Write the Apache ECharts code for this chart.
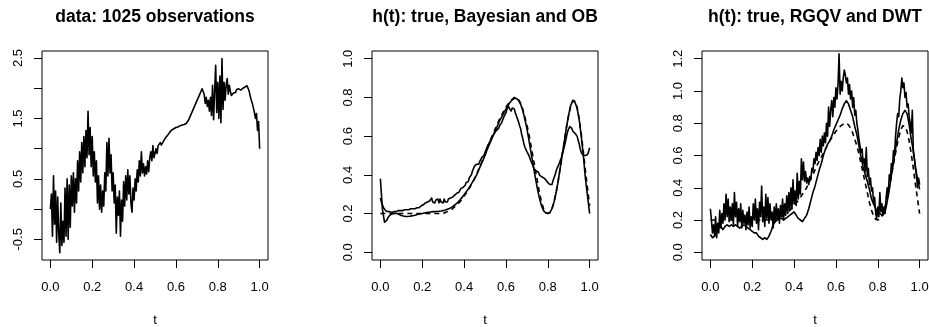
<!DOCTYPE html>
<html>
<head>
<meta charset="utf-8">
<script src="https://cdn.jsdelivr.net/npm/echarts@6/dist/echarts.min.js"></script>
<style>
  html, body { margin: 0; padding: 0; background: #fff; }
  #chart { width: 929px; height: 327px; }
</style>
</head>
<body>
<div id="chart"></div>
<script>
// Observed series: 201 samples on an even grid over t in [0, 1]
const obsValues = [
  0.00, 0.25, -0.45, 0.55, -0.25, 0.30, -0.55, 0.20, -0.40, -0.72,
  0.10, -0.60, -0.20, -0.55, 0.35, -0.45, 0.50, -0.50, 0.40, -0.30,
  0.55, 0.05, 0.60, -0.05, 0.50, 0.10, 0.80, 0.30, 0.95, 0.45,
  1.10, 0.60, 1.20, 0.70, 1.30, 0.85, 1.62, 0.90, 1.35, 0.70,
  1.20, 0.55, 0.95, 0.45, 0.80, 0.10, 0.55, 0.00, 0.40, -0.05,
  0.30, 0.05, 0.60, 0.30, 1.10, 0.55, 1.17, 0.60, 0.90, 0.30,
  0.60, 0.10, 0.40, -0.40, 0.20, -0.10, 0.30, -0.45, 0.15, -0.20,
  0.45, 0.05, 0.55, 0.15, 0.65, 0.25, 0.55, 0.10, -0.05, 0.35,
  0.15, 0.50, 0.30, 0.65, 0.45, 0.80, 0.55, 0.95, 0.60, 0.75,
  0.55, 0.70, 0.58, 0.80, 0.62, 0.85, 0.95, 0.80, 1.05, 0.85,
  0.85, 1.00, 0.92, 1.05, 1.02, 1.10, 1.06, 1.08, 1.12, 1.15,
  1.18, 1.20, 1.22, 1.25, 1.27, 1.29, 1.31, 1.32, 1.33, 1.34,
  1.35, 1.35, 1.36, 1.37, 1.38, 1.38, 1.39, 1.40, 1.40, 1.41,
  1.42, 1.44, 1.47, 1.51, 1.55, 1.59, 1.63, 1.67, 1.71, 1.75,
  1.79, 1.83, 1.87, 1.91, 1.95, 1.99, 2.02, 1.90, 1.75, 1.85,
  1.70, 1.80, 1.62, 1.85, 1.55, 2.05, 1.48, 1.95, 2.38, 1.60,
  2.10, 1.50, 2.20, 1.43, 2.49, 1.65, 2.10, 1.80, 2.05, 2.16,
  1.90, 2.05, 1.95, 1.88, 1.85, 1.92, 1.95, 1.93, 1.98, 2.00,
  1.99, 1.98, 1.97, 1.98, 2.00, 2.01, 2.02, 2.03, 2.04, 2.03,
  1.95, 1.87, 1.80, 1.75, 1.68, 1.60, 1.50, 1.58, 1.30, 1.45,
  1.00
];

// True h(t), 101 samples
const trueH = [
  0.20, 0.20, 0.20, 0.20, 0.20, 0.20, 0.20, 0.20, 0.20, 0.20,
  0.20, 0.20, 0.20, 0.20, 0.20, 0.20, 0.20, 0.20, 0.20, 0.20,
  0.20, 0.20, 0.20, 0.20, 0.20, 0.20, 0.20, 0.20, 0.20, 0.20,
  0.20, 0.205, 0.21, 0.215, 0.22, 0.23, 0.24, 0.25, 0.26, 0.275,
  0.29, 0.305, 0.32, 0.34, 0.36, 0.38, 0.40, 0.43, 0.455, 0.48,
  0.51, 0.54, 0.565, 0.59, 0.615, 0.64, 0.665, 0.69, 0.71, 0.73,
  0.75, 0.765, 0.78, 0.79, 0.80, 0.80, 0.79, 0.77, 0.74, 0.70,
  0.66, 0.61, 0.55, 0.49, 0.43, 0.37, 0.31, 0.26, 0.225, 0.205,
  0.20, 0.205, 0.225, 0.26, 0.31, 0.37, 0.44, 0.51, 0.58, 0.65,
  0.71, 0.76, 0.785, 0.78, 0.75, 0.69, 0.61, 0.52, 0.42, 0.33,
  0.24
];

// Bayesian estimate, 101 samples
const bayesH = [
  0.38, 0.22, 0.155, 0.165, 0.185, 0.195, 0.20, 0.20, 0.20, 0.195,
  0.19, 0.187, 0.185, 0.185, 0.186, 0.188, 0.19, 0.193, 0.196, 0.198,
  0.20, 0.203, 0.205, 0.207, 0.208, 0.21, 0.21, 0.211, 0.212, 0.213,
  0.215, 0.218, 0.222, 0.226, 0.232, 0.24, 0.248, 0.258, 0.27, 0.283,
  0.297, 0.312, 0.327, 0.344, 0.362, 0.38, 0.40, 0.425, 0.45, 0.475,
  0.50, 0.53, 0.555, 0.58, 0.605, 0.63, 0.655, 0.68, 0.70, 0.72,
  0.74, 0.76, 0.775, 0.787, 0.795, 0.795, 0.785, 0.765, 0.735, 0.69,
  0.64, 0.58, 0.515, 0.45, 0.39, 0.33, 0.28, 0.24, 0.215, 0.203,
  0.20, 0.205, 0.225, 0.26, 0.31, 0.37, 0.44, 0.51, 0.58, 0.65,
  0.71, 0.76, 0.783, 0.775, 0.745, 0.685, 0.60, 0.50, 0.38, 0.29,
  0.20
];

// OB estimate, 201 samples
const obH = [
  0.28, 0.26, 0.265, 0.23, 0.22, 0.215, 0.22, 0.21, 0.215, 0.21,
  0.22, 0.205, 0.215, 0.21, 0.22, 0.21, 0.22, 0.215, 0.225, 0.215,
  0.22, 0.215, 0.225, 0.22, 0.23, 0.22, 0.225, 0.22, 0.23, 0.225,
  0.235, 0.225, 0.23, 0.225, 0.235, 0.23, 0.24, 0.23, 0.235, 0.24,
  0.235, 0.245, 0.24, 0.255, 0.245, 0.26, 0.25, 0.265, 0.255, 0.28,
  0.26, 0.27, 0.255, 0.27, 0.26, 0.275, 0.255, 0.275, 0.26, 0.27,
  0.255, 0.275, 0.26, 0.265, 0.26, 0.275, 0.265, 0.28, 0.27, 0.285,
  0.28, 0.295, 0.29, 0.305, 0.30, 0.31, 0.315, 0.33, 0.325, 0.335,
  0.34, 0.345, 0.36, 0.37, 0.365, 0.385, 0.39, 0.40, 0.42, 0.43,
  0.445, 0.44, 0.455, 0.46, 0.455, 0.47, 0.475, 0.49, 0.485, 0.50,
  0.51, 0.53, 0.52, 0.555, 0.56, 0.575, 0.57, 0.60, 0.595, 0.615,
  0.61, 0.63, 0.625, 0.64, 0.655, 0.65, 0.67, 0.675, 0.70, 0.705,
  0.72, 0.74, 0.765, 0.745, 0.74, 0.73, 0.745, 0.735, 0.74, 0.72,
  0.71, 0.69, 0.675, 0.655, 0.64, 0.61, 0.59, 0.565, 0.545, 0.535,
  0.52, 0.51, 0.50, 0.485, 0.47, 0.46, 0.445, 0.43, 0.425, 0.42,
  0.41, 0.415, 0.40, 0.405, 0.39, 0.395, 0.385, 0.38, 0.375, 0.365,
  0.36, 0.37, 0.35, 0.34, 0.35, 0.37, 0.385, 0.40, 0.42, 0.435,
  0.44, 0.46, 0.475, 0.49, 0.51, 0.53, 0.55, 0.575, 0.60, 0.625,
  0.635, 0.65, 0.66, 0.64, 0.625, 0.63, 0.615, 0.62, 0.60, 0.58,
  0.56, 0.535, 0.515, 0.51, 0.50, 0.505, 0.50, 0.495, 0.505, 0.52,
  0.54
];

// RGQV estimate, 201 samples
const rgqvH = [
  0.27, 0.20, 0.12, 0.17, 0.10, 0.22, 0.09, 0.18, 0.12, 0.26,
  0.15, 0.24, 0.18, 0.30, 0.20, 0.36, 0.22, 0.33, 0.19, 0.28,
  0.20, 0.30, 0.17, 0.37, 0.22, 0.31, 0.16, 0.27, 0.19, 0.30,
  0.15, 0.26, 0.18, 0.23, 0.14, 0.25, 0.17, 0.28, 0.15, 0.22,
  0.16, 0.30, 0.20, 0.33, 0.18, 0.27, 0.14, 0.31, 0.22, 0.41,
  0.19, 0.28, 0.16, 0.36, 0.21, 0.34, 0.18, 0.30, 0.20, 0.25,
  0.15, 0.28, 0.19, 0.30, 0.21, 0.27, 0.18, 0.29, 0.22, 0.33,
  0.20, 0.30, 0.23, 0.35, 0.24, 0.37, 0.26, 0.40, 0.27, 0.45,
  0.30, 0.38, 0.29, 0.49, 0.33, 0.44, 0.36, 0.58, 0.45, 0.56,
  0.44, 0.50, 0.43, 0.46, 0.42, 0.47, 0.45, 0.52, 0.50, 0.58,
  0.55, 0.62, 0.57, 0.65, 0.60, 0.70, 0.62, 0.72, 0.66, 0.74,
  0.68, 0.80, 0.72, 0.90, 0.78, 0.88, 0.94, 0.84, 0.96, 0.90,
  1.02, 0.95, 1.04, 1.23, 0.98, 1.06, 1.00, 1.08, 1.13, 1.10,
  1.05, 1.08, 0.98, 1.04, 0.95, 1.00, 0.90, 0.96, 0.85, 0.88,
  0.80, 0.76, 0.70, 0.66, 0.62, 0.64, 0.55, 0.58, 0.50, 0.65,
  0.47, 0.52, 0.42, 0.46, 0.38, 0.40, 0.30, 0.34, 0.24, 0.21,
  0.28, 0.22, 0.37, 0.25, 0.30, 0.23, 0.28, 0.24, 0.34, 0.40,
  0.36, 0.48, 0.45, 0.55, 0.52, 0.63, 0.60, 0.72, 0.80, 0.86,
  0.84, 0.95, 1.00, 1.08, 1.02, 1.05, 0.96, 0.99, 0.90, 0.92,
  0.84, 0.80, 0.74, 0.88, 0.62, 0.58, 0.52, 0.47, 0.40, 0.46,
  0.42
];

// DWT estimate, 101 samples
const dwtH = [
  0.11, 0.09, 0.10, 0.13, 0.15, 0.16, 0.14, 0.16, 0.17, 0.16,
  0.17, 0.16, 0.17, 0.16, 0.15, 0.16, 0.17, 0.16, 0.15, 0.14,
  0.13, 0.12, 0.12, 0.10, 0.09, 0.08, 0.09, 0.08, 0.10, 0.13,
  0.17, 0.19, 0.20, 0.21, 0.21, 0.20, 0.21, 0.22, 0.23, 0.24,
  0.25, 0.23, 0.21, 0.20, 0.19, 0.21, 0.23, 0.27, 0.32, 0.37,
  0.41, 0.46, 0.51, 0.55, 0.60, 0.64, 0.67, 0.69, 0.72, 0.76,
  0.79, 0.82, 0.85, 0.89, 0.92, 0.94, 0.92, 0.88, 0.84, 0.78,
  0.73, 0.66, 0.59, 0.53, 0.48, 0.44, 0.39, 0.33, 0.30, 0.27,
  0.25, 0.24, 0.23, 0.24, 0.28, 0.35, 0.43, 0.52, 0.60, 0.68,
  0.76, 0.82, 0.86, 0.88, 0.86, 0.79, 0.70, 0.63, 0.53, 0.45,
  0.39
];

// Titles and tick values
const panelTitles = ['data: 1025 observations', 'h(t): true, Bayesian and OB', 'h(t): true, RGQV and DWT'];
const tTicks = [0, 0.2, 0.4, 0.6, 0.8, 1.0];
const obsTicks = [-0.5, 0, 0.5, 1, 1.5, 2, 2.5];
const obsTickLabels = [-0.5, 0.5, 1.5, 2.5];
const hTicksMid = [0, 0.2, 0.4, 0.6, 0.8, 1.0];
const hTicksRight = [0, 0.2, 0.4, 0.6, 0.8, 1.0, 1.2];

const FONT = '"Liberation Sans", Arial, Helvetica, sans-serif';
const INK = '#000';

// Samples on an even grid spanning t = 0..1
function onGrid(values) {
  const n = values.length;
  return values.map((v, i) => [i / (n - 1), v]);
}

const panelLeft = [42, 372, 702];
const panelTop = 51;
const panelW = 226;
const panelH = 209;

function xAxisFor(g) {
  return {
    type: 'value', gridIndex: g, position: 'bottom', min: -0.04, max: 1.04,
    name: 't', nameLocation: 'middle', nameGap: 54,
    nameTextStyle: { fontFamily: FONT, fontSize: 13, color: INK },
    axisLine: { show: false, onZero: false },
    splitLine: { show: false },
    axisTick: { show: true, length: 8, customValues: tTicks, lineStyle: { color: INK, width: 1 } },
    axisLabel: { customValues: tTicks, margin: 21, fontFamily: FONT, fontSize: 13, color: INK,
                 formatter: v => v.toFixed(1) }
  };
}

function yAxisFor(g, min, max, ticks, labels) {
  return {
    type: 'value', gridIndex: g, position: 'left', min: min, max: max,
    axisLine: { show: false, onZero: false },
    splitLine: { show: false },
    axisTick: { show: true, length: 8, customValues: ticks, lineStyle: { color: INK, width: 1 } },
    axisLabel: { customValues: labels, rotate: 90, margin: 17, fontFamily: FONT, fontSize: 13, color: INK,
                 formatter: v => v.toFixed(1) }
  };
}

function lineSeries(g, values, dashed) {
  return {
    type: 'line', xAxisIndex: g, yAxisIndex: g,
    data: onGrid(values),
    showSymbol: false, symbol: 'none', silent: true, animation: false,
    lineStyle: { color: INK, width: 1.6, type: dashed ? [5, 4] : 'solid', join: 'round' }
  };
}

const chart = echarts.init(document.getElementById('chart'), null, { renderer: 'canvas' });

chart.setOption({
  backgroundColor: '#fff',
  animation: false,
  grid: panelLeft.map(l => ({
    left: l, top: panelTop, width: panelW, height: panelH,
    show: true, borderColor: INK, borderWidth: 1,
    containLabel: false, outerBoundsMode: 'none'
  })),
  xAxis: [xAxisFor(0), xAxisFor(1), xAxisFor(2)],
  yAxis: [
    yAxisFor(0, -0.842, 2.616, obsTicks, obsTickLabels),
    yAxisFor(1, -0.04, 1.04, hTicksMid, hTicksMid),
    yAxisFor(2, -0.048, 1.248, hTicksRight, hTicksRight)
  ],
  graphic: panelTitles.map((txt, i) => ({
    type: 'text', x: panelLeft[i] + panelW / 2, y: 17, silent: true,
    style: { text: txt, fill: INK, font: 'bold 17.5px ' + FONT, align: 'center', verticalAlign: 'middle' }
  })),
  series: [
    lineSeries(0, obsValues, false),
    lineSeries(1, trueH, true),
    lineSeries(1, bayesH, false),
    lineSeries(1, obH, false),
    lineSeries(2, trueH, true),
    lineSeries(2, rgqvH, false),
    lineSeries(2, dwtH, false)
  ]
});
</script>
</body>
</html>
